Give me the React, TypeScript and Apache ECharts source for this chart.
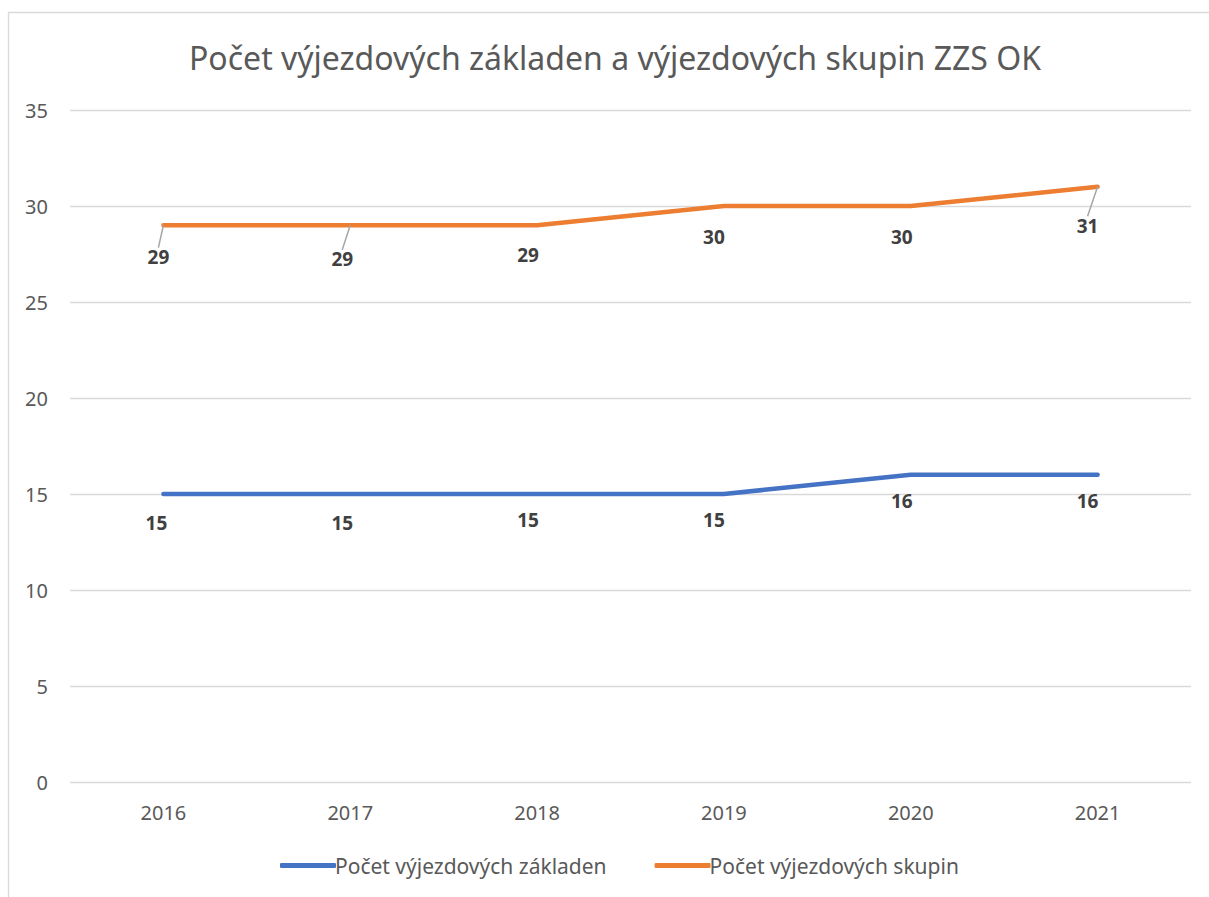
import React, { useEffect, useRef } from "react";
import * as echarts from "echarts";

const years = ["2016", "2017", "2018", "2019", "2020", "2021"];
const zakladny = [15, 15, 15, 15, 16, 16];
const skupiny = [29, 29, 29, 30, 30, 31];
const seriesNames = ["Počet výjezdových základen", "Počet výjezdových skupin"];
const titleText = "Počet výjezdových základen a výjezdových skupin ZZS OK";

// label offsets (dx, dy from the point) as placed in the original
const blueOffsets = [[-7, 29], [-8, 29], [-9, 26], [-10, 26], [-9, 26], [-10, 26]];
const orangeOffsets = [[-5, 32], [-8, 34], [-9, 30], [-10, 31], [-9, 31], [-10, 39]];
const orangeLeader = [true, true, false, false, false, true];

const FONT = "Noto Sans";

export default function App() {
  const ref = useRef<HTMLDivElement>(null);
  useEffect(() => {
    const chart = echarts.init(ref.current!, undefined, { renderer: "svg" });
    const labelBase = {
      show: true,
      position: "inside",
      fontFamily: FONT,
      fontWeight: "bold",
      fontSize: 19,
      color: "#404040",
    };
    chart.setOption({
      animation: false,
      backgroundColor: "#ffffff",
      title: {
        text: titleText,
        left: 184,
        top: 36,
        textStyle: { fontFamily: FONT, fontSize: 32, fontWeight: "normal", color: "#595959" },
      },
      grid: { left: 70, right: 18, top: 110, bottom: 115, containLabel: false },
      xAxis: {
        type: "category",
        data: years,
        boundaryGap: true,
        axisLine: { show: false },
        axisTick: { show: false },
        axisLabel: { fontFamily: FONT, fontSize: 20, color: "#595959", margin: 20 },
      },
      yAxis: {
        type: "value",
        min: 0,
        max: 35,
        interval: 5,
        axisLine: { show: false },
        axisTick: { show: false },
        splitLine: { lineStyle: { color: "#d9d9d9", width: 1.3 } },
        axisLabel: { fontFamily: FONT, fontSize: 20, color: "#595959", margin: 22 },
      },
      legend: {
        bottom: 16,
        left: 275,
        itemWidth: 56,
        itemHeight: 5,
        itemGap: 48,
        icon: "roundRect",
        textStyle: { fontFamily: FONT, fontSize: 21, color: "#595959", padding: [0, 0, 0, -6] },
        data: seriesNames,
      },
      series: [
        {
          name: seriesNames[0],
          type: "line",
          data: zakladny,
          showSymbol: true,
          symbol: "circle",
          symbolSize: 0.1,
          itemStyle: { color: "#4472C4" },
          lineStyle: { color: "#4472C4", width: 4.5, cap: "round", join: "round" },
          label: labelBase,
          labelLayout: (p: any) => ({ dx: blueOffsets[p.dataIndex][0], dy: blueOffsets[p.dataIndex][1] }),
        },
        {
          name: seriesNames[1],
          type: "line",
          data: skupiny.map((v, i) => ({
            value: v,
            labelLine: { show: orangeLeader[i] },
          })),
          showSymbol: true,
          symbol: "circle",
          symbolSize: 0.1,
          itemStyle: { color: "#ED7D31" },
          lineStyle: { color: "#ED7D31", width: 4.5, cap: "round", join: "round" },
          label: labelBase,
          labelLine: { show: false, lineStyle: { color: "#a6a6a6", width: 1.5 } },
          labelLayout: (p: any) => ({ dx: orangeOffsets[p.dataIndex][0], dy: orangeOffsets[p.dataIndex][1] }),
        },
      ],
      graphic: [
        {
          type: "rect",
          shape: { x: 8.5, y: 12.5, width: 1400, height: 1000 },
          style: { fill: "none", stroke: "#d9d9d9", lineWidth: 1.3 },
          silent: true,
        },
      ],
    });
    return () => chart.dispose();
  }, []);
  return (
    <div
      ref={ref}
      style={{ position: "absolute", left: 0, top: 0, width: 1209, height: 897 }}
    />
  );
}
